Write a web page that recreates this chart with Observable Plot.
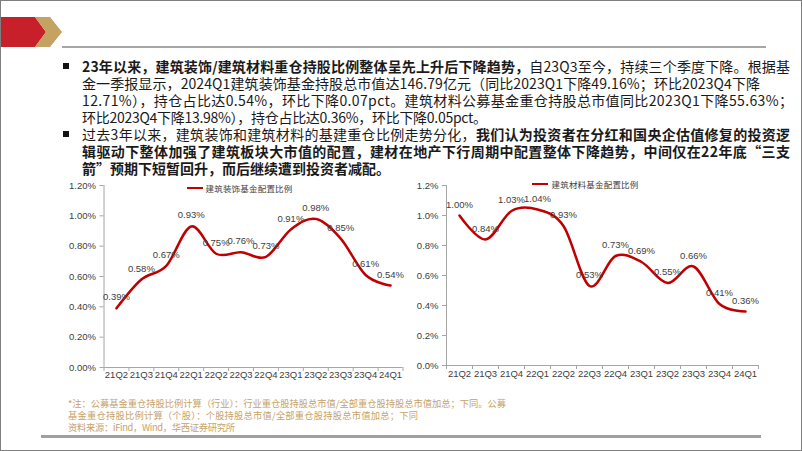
<!DOCTYPE html>
<html>
<head>
<meta charset="utf-8">
<script src="https://cdn.jsdelivr.net/npm/d3@7"></script>
<script src="https://cdn.jsdelivr.net/npm/@observablehq/plot@0.6"></script>
<style>
  html, body { margin: 0; padding: 0; background: #fff; }
  #page { position: relative; width: 802px; height: 451px; overflow: hidden; background: #fff; box-sizing: border-box; border: 1.5px solid #7f7f7f; }
  .abs { position: absolute; }
  .legend { position: absolute; font-family: "Noto Sans CJK SC", sans-serif; font-size: 8.5px; color: #404040; white-space: nowrap; line-height: 10px; letter-spacing: 0.2px; }
  .legline { position: absolute; height: 2.5px; background: #C00000; }
  .para { font-family: "Noto Sans CJK SC", "Noto Sans", sans-serif; font-size: 14px; fill: #1a1a1a; }
  .note { font-family: "Noto Sans CJK SC", sans-serif; font-size: 9.3px; fill: #c6a26a; }
</style>
</head>
<body>
<div id="page">
  <svg class="abs" style="left:-1.5px;top:-1.5px" width="802" height="451">
    <polygon points="0,17 35,17 46,32 35,47 0,47" fill="#C8202A"></polygon>
    <polygon points="35,17 50,17 62,32 50,47 35,47 46,32" fill="#C4A261"></polygon>
    <rect x="62" y="46" width="704" height="2" fill="#a6a6a6"></rect>
    <rect x="63" y="63" width="6" height="6" fill="#111"></rect>
    <rect x="63" y="131" width="6" height="6" fill="#111"></rect>
    <g class="para">
      <text x="82" y="71.6" textLength="708" lengthAdjust="spacing"><tspan font-weight="700">23年以来，建筑装饰/建筑材料重仓持股比例整体呈先上升后下降趋势，</tspan>自23Q3至今，持续三个季度下降。根据基</text>
      <text x="82" y="88.6" textLength="678" lengthAdjust="spacing">金一季报显示，2024Q1建筑装饰基金持股总市值达146.79亿元（同比2023Q1下降49.16%；环比2023Q4下降</text>
      <text x="82" y="105.6" textLength="711" lengthAdjust="spacing">12.71%），持仓占比达0.54%，环比下降0.07pct。建筑材料公募基金重仓持股总市值同比2023Q1下降55.63%；</text>
      <text x="82" y="122.6" textLength="405" lengthAdjust="spacing">环比2023Q4下降13.98%），持仓占比达0.36%，环比下降0.05pct。</text>
      <text x="82" y="139.6" textLength="708" lengthAdjust="spacing">过去3年以来，建筑装饰和建筑材料的基建重仓比例走势分化，<tspan font-weight="700">我们认为投资者在分红和国央企估值修复的投资逻</tspan></text>
      <text x="82" y="156.6" textLength="708" lengthAdjust="spacing" font-weight="700">辑驱动下整体加强了建筑板块大市值的配置，建材在地产下行周期中配置整体下降趋势，中间仅在22年底“三支</text>
      <text x="82" y="173.6" font-weight="700">箭”预期下短暂回升，而后继续遭到投资者减配。</text>
    </g>
    <g class="note">
      <text x="68" y="407" textLength="438" lengthAdjust="spacing">*注：公募基金重仓持股比例计算（行业）：行业重仓股持股总市值/全部重仓股持股总市值加总；下同。公募</text>
      <text x="68" y="419" textLength="350" lengthAdjust="spacing">基金重仓持股比例计算（个股）：个股持股总市值/全部重仓股持股总市值加总；下同</text>
      <text x="68" y="431" textLength="167" lengthAdjust="spacing">资料来源：iFind，Wind，华西证券研究所</text>
    </g>
    <rect x="41" y="435" width="720" height="3" fill="#a0a0a0"></rect>
  </svg>

  <div id="chartL" class="abs" style="left:48.5px;top:168.5px"></div>
  <div id="chartR" class="abs" style="left:398.5px;top:168.5px"></div>

  <div class="legline" style="left:185.5px;top:185.5px;width:16px"></div>
  <div class="legend" style="left:204.5px;top:181.5px">建筑装饰基金配置比例</div>
  <div class="legline" style="left:530.5px;top:181.5px;width:16px"></div>
  <div class="legend" style="left:550.5px;top:177.5px">建筑材料基金配置比例</div>
</div>
<script>
const quarters = ["21Q2","21Q3","21Q4","22Q1","22Q2","22Q3","22Q4","23Q1","23Q2","23Q3","23Q4","24Q1"];
const decoValues = [0.39, 0.58, 0.67, 0.93, 0.75, 0.76, 0.73, 0.91, 0.98, 0.85, 0.61, 0.54];
const materialValues = [1.00, 0.84, 1.03, 1.04, 0.93, 0.53, 0.73, 0.69, 0.55, 0.66, 0.41, 0.36];
const yTicks = [0, 0.2, 0.4, 0.6, 0.8, 1.0, 1.2];
const decoTickDigits = 2;
const materialTickDigits = 1;

function makeChart(values, tickDigits, opts) {
  const data = quarters.map((q, i) => ({i, q, v: values[i]}));
  const centers = quarters.map((q, i) => i);
  const bounds = d3.range(quarters.length + 1).map(i => i - 0.5);
  const grey = "#a6a6a6";
  return Plot.plot({
    width: opts.width,
    height: opts.height,
    marginLeft: opts.ml,
    marginRight: opts.mr,
    marginTop: opts.mt,
    marginBottom: opts.mb,
    style: {fontFamily: "'Liberation Sans', Arial, sans-serif", fontSize: "9.5px", color: "#404040", background: "transparent"},
    x: {type: "linear", domain: [-0.5, quarters.length - 0.5]},
    y: {domain: [0, 1.2]},
    marks: [
      Plot.axisX(bounds, {tickSize: 4, tickFormat: () => "", stroke: grey, label: null}),
      Plot.axisX(centers, {tickSize: 0, tickPadding: opts.xPad, tickFormat: i => quarters[i], fill: "#404040", label: null}),
      Plot.axisY(yTicks, {tickSize: 4, tickPadding: 4, tickFormat: d => d.toFixed(tickDigits) + "%", stroke: grey, fill: "#404040", label: null}),
      Plot.ruleX([-0.5], {stroke: grey}),
      Plot.ruleY([0], {stroke: grey}),
      Plot.line(data, {x: "i", y: "v", curve: "cardinal", stroke: "#C00000", strokeWidth: 2.5}),
      Plot.text(data, {x: "i", y: "v", text: d => d.v.toFixed(2) + "%", dy: -11, fill: "#404040", fontSize: 9.5})
    ]
  });
}

document.getElementById("chartL").appendChild(
  makeChart(decoValues, decoTickDigits, {width: 360, height: 220, ml: 53.5, mr: 7.5, mt: 15, mb: 23, xPad: 4})
);
document.getElementById("chartR").appendChild(
  makeChart(materialValues, materialTickDigits, {width: 380, height: 220, ml: 46, mr: 22, mt: 15, mb: 25, xPad: 5})
);
</script>
</body>
</html>
